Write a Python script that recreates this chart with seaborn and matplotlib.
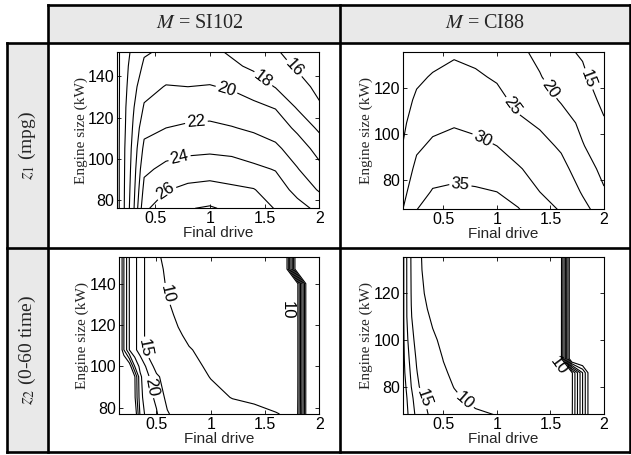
import numpy as np
import matplotlib
matplotlib.use("Agg")
import matplotlib.pyplot as plt
import seaborn as sns
from matplotlib.patches import Rectangle
from matplotlib.lines import Line2D

# ---------------- data ----------------
col_titles = ["SI102", "CI88"]
row_titles = [r"$z_1$ (mpg)", r"$z_2$ (0-60 time)"]

# z1 (mpg), M = SI102
x_tl = [0.15, 0.2, 0.3, 0.4, 0.6, 0.8, 1.0, 1.2, 1.4, 1.6, 1.8, 2.0]
y_tl = [76, 85, 95, 105, 115, 125, 135, 145, 152]
z_tl = [
    [13, 15.2, 19.5, 25.6, 27.2, 27.9, 28.2, 27.6, 27.0, 25.9, 24.7, 23.5],
    [13, 15.2, 19.2, 24.6, 25.9, 26.5, 26.7, 26.4, 26.1, 25.0, 23.4, 21.8],
    [13, 15.2, 18.9, 23.6, 24.5, 24.9, 25.1, 24.8, 24.4, 23.9, 22.1, 20.5],
    [13, 15.2, 18.6, 22.5, 23.2, 23.5, 23.6, 23.5, 23.0, 22.4, 21.0, 19.3],
    [13, 15.1, 18.2, 21.4, 22.0, 22.3, 22.4, 22.1, 21.7, 21.1, 19.6, 17.6],
    [13, 15.1, 17.8, 20.2, 21.0, 21.1, 21.2, 20.9, 20.4, 19.9, 17.8, 16.3],
    [13, 15.0, 17.3, 19.3, 20.1, 20.0, 20.1, 19.8, 19.2, 17.9, 16.9, 15.4],
    [13, 15.0, 16.8, 18.3, 19.0, 19.0, 19.1, 18.4, 17.6, 16.9, 15.7, 14.5],
    [13, 15.0, 16.4, 17.8, 18.3, 18.4, 18.5, 17.7, 17.0, 16.2, 15.2, 14.0],
]
lev_tl = [14, 16, 18, 20, 22, 24, 26, 28]
lab_tl = [(1.77, 144), (1.49, 139), (1.15, 133), (0.88, 116), (0.73, 99), (0.58, 85)]

# z1 (mpg), M = CI88
x_tr = [0.12, 0.25, 0.4, 0.6, 0.8, 1.0, 1.2, 1.4, 1.6, 1.8, 2.0]
y_tr = [67, 75, 85, 95, 105, 115, 125, 136]
z_tr = [
    [30.0, 35.0, 37.0, 38.0, 37.5, 37.0, 35.3, 32.5, 29.6, 26.3, 23.0],
    [28.5, 33.2, 35.3, 35.8, 35.5, 35.0, 33.3, 30.0, 28.2, 24.6, 20.5],
    [26.8, 31.2, 33.3, 33.6, 33.3, 32.3, 30.4, 28.3, 26.3, 22.8, 18.5],
    [25.1, 29.2, 30.8, 31.5, 31.0, 30.0, 28.0, 26.4, 24.4, 20.3, 17.0],
    [24.0, 27.6, 28.8, 29.6, 28.9, 28.2, 25.8, 24.4, 22.5, 18.8, 15.5],
    [23.0, 25.8, 27.1, 28.0, 27.2, 26.3, 23.8, 22.7, 19.5, 17.5, 13.8],
    [22.2, 24.1, 25.4, 26.3, 25.6, 24.5, 22.2, 20.3, 17.5, 15.8, 12.5],
    [21.5, 22.8, 23.2, 24.4, 23.8, 22.8, 21.0, 18.8, 15.9, 14.5, 11.0],
]
lev_tr = [10, 15, 20, 25, 30, 35]
lab_tr = [(1.85, 124), (1.47, 119), (1.14, 112), (0.86, 97.5), (0.66, 78.7)]

# z2 (0-60 time), M = SI102
x_bl = [0.15, 0.2, 0.25, 0.3, 0.35, 0.4, 0.5, 0.6, 0.7, 0.8, 1.0, 1.2, 1.4, 1.6, 1.7, 1.8, 1.9, 2.0]
y_bl = [77, 85, 95, 100, 108, 115, 125, 135, 140, 147, 153]
z_bl = [
    [50, 50, 50, 45, 29, 24, 20.5, 15.5, 13.0, 11.8, 11.0, 10.6, 10.3, 10.05, 9.9, 9.7, 50, 50],
    [50, 50, 50, 41, 27, 22.5, 19.0, 13.5, 12.2, 11.3, 10.4, 9.95, 9.8, 9.6, 9.4, 9.2, 50, 50],
    [50, 50, 50, 40.5, 26, 22, 16.0, 12.5, 11.3, 10.6, 9.95, 9.5, 9.2, 9.05, 9.0, 9.0, 50, 50],
    [50, 50, 44, 30, 23.5, 20, 12.9, 11.3, 10.8, 10.35, 9.8, 9.3, 9.1, 9.0, 9.0, 9.0, 50, 50],
    [50, 35, 25, 21, 18, 14.5, 12.3, 11.2, 10.5, 10.1, 9.5, 9.1, 9.0, 8.9, 8.9, 9.0, 50, 50],
    [50, 35, 25, 21, 18, 14.3, 12.0, 10.9, 10.2, 9.7, 9.3, 9.0, 8.9, 8.8, 8.9, 9.0, 50, 50],
    [50, 35, 25, 21, 18, 14.3, 11.6, 10.4, 9.7, 9.4, 9.1, 8.9, 8.8, 8.8, 8.9, 9.0, 50, 50],
    [50, 35, 25, 21, 18, 14.3, 11.0, 9.95, 9.5, 9.2, 9.0, 8.9, 8.8, 8.8, 8.9, 9.0, 50, 50],
    [50, 35, 25, 21, 18, 14.3, 10.8, 9.8, 9.4, 9.2, 9.0, 8.9, 8.8, 8.8, 8.9, 9.0, 50, 50],
    [50, 35, 25, 21, 18, 14.3, 10.5, 9.7, 9.3, 9.1, 8.9, 8.8, 8.8, 8.8, 9.0, 50, 50, 50],
    [50, 35, 25, 21, 18, 14.3, 10.25, 9.6, 9.3, 9.1, 8.9, 8.8, 8.8, 8.8, 9.0, 50, 50, 50],
]
lev_b = [10, 15, 20, 25, 30, 35, 40]
lab_bl = [(0.6, 135), (0.42, 109), (0.45, 90)]
cliff_bl = (1.8, 127, 0.1)

# z2 (0-60 time), M = CI88
x_br = [0.12, 0.15, 0.2, 0.25, 0.3, 0.35, 0.4, 0.5, 0.6, 0.8, 1.0, 1.2, 1.4, 1.6, 1.7, 1.8, 1.9, 2.0]
y_br = [68, 75, 80, 86, 92, 100, 110, 120, 130, 136]
z_br = [
    [27, 27, 22, 19, 17, 15.3, 13.5, 11.8, 10.9, 10.3, 9.95, 9.8, 9.7, 9.4, 9.2, 30, 50, 50],
    [27, 26, 21, 18, 16, 14, 12.2, 11.0, 10.3, 9.5, 9.3, 9.2, 9.2, 9.1, 9.0, 30, 50, 50],
    [27, 25, 20, 16.5, 13.5, 12.3, 11.6, 10.6, 9.95, 9.5, 9.2, 9.1, 9.1, 9.0, 9.0, 30, 50, 50],
    [27, 24, 19, 15.3, 12.8, 11.8, 11.1, 10.2, 9.7, 9.3, 9.1, 9.0, 9.0, 9.0, 9.0, 30, 50, 50],
    [27, 23, 18, 14.5, 12.3, 11.3, 10.7, 9.95, 9.5, 9.2, 9.0, 8.9, 8.9, 9.0, 50, 50, 50, 50],
    [27, 22, 16.5, 13.5, 11.7, 10.8, 10.3, 9.6, 9.3, 9.1, 9.0, 8.9, 8.9, 9.0, 50, 50, 50, 50],
    [27, 21, 15.2, 12.8, 11.0, 10.2, 9.7, 9.3, 9.0, 8.9, 8.8, 8.8, 8.8, 8.9, 50, 50, 50, 50],
    [27, 21, 14.8, 12.4, 10.3, 9.6, 9.3, 9.0, 8.9, 8.8, 8.7, 8.7, 8.7, 8.8, 50, 50, 50, 50],
    [27, 21, 14.6, 12.1, 10.0, 9.4, 9.1, 8.9, 8.8, 8.7, 8.6, 8.6, 8.6, 8.7, 50, 50, 50, 50],
    [27, 21, 14.5, 12.0, 9.8, 9.3, 9.0, 8.8, 8.7, 8.6, 8.5, 8.5, 8.5, 8.6, 50, 50, 50, 50],
]
lab_br = [(0.70, 74), (0.345, 75.7)]
cliff_br = (1.65, 89, 0.07)

# ---------------- style ----------------
sns.set_style("ticks")
plt.rcParams["font.family"] = ["Liberation Sans", "DejaVu Sans"]
plt.rcParams["mathtext.fontset"] = "stix"
serif = ["Liberation Serif", "DejaVu Serif"]

W, H = 631, 455
fig = plt.figure(figsize=(W / 100, H / 100), dpi=100)


def fx(x):
    return x / W


def fy(y):
    return 1 - y / H


# table: grey header cells and grey row-label column
gray = "#e9e9e9"
fig.add_artist(Rectangle((fx(48), fy(42.5)), fx(631) - fx(48), fy(5) - fy(42.5),
                         transform=fig.transFigure, facecolor=gray, edgecolor="none", zorder=0))
fig.add_artist(Rectangle((fx(7), fy(452)), fx(48) - fx(7), fy(42.5) - fy(452),
                         transform=fig.transFigure, facecolor=gray, edgecolor="none", zorder=0))


def hline(y, x0, x1):
    fig.add_artist(Line2D([fx(x0), fx(x1)], [fy(y), fy(y)], transform=fig.transFigure,
                          color="k", lw=1.9, solid_capstyle="projecting"))


def vline(x, y0, y1):
    fig.add_artist(Line2D([fx(x), fx(x)], [fy(y0), fy(y1)], transform=fig.transFigure,
                          color="k", lw=1.9, solid_capstyle="projecting"))


hline(5, 48, 631)
hline(42.5, 7, 631)
hline(248, 7, 631)
hline(452, 7, 631)
vline(7, 42.5, 452)
vline(48, 5, 452)
vline(340, 5, 452)
vline(630, 5, 452)

fig.text(fx(200), fy(24), r"$M$ = " + col_titles[0], ha="center", va="center",
         fontsize=14.5, family=serif)
fig.text(fx(485), fy(24), r"$M$ = " + col_titles[1], ha="center", va="center",
         fontsize=14.5, family=serif)
fig.text(fx(27), fy(145), row_titles[0], ha="center", va="center", rotation=90,
         fontsize=14, family=serif)
fig.text(fx(27), fy(350), row_titles[1], ha="center", va="center", rotation=90,
         fontsize=14, family=serif)

panels = [
    (x_tl, y_tl, z_tl, lev_tl, lab_tl, None, (0.155, 2), (76, 152), [80, 100, 120, 140],
     (117.3, 51.7, 319.3, 208.3)),
    (x_tr, y_tr, z_tr, lev_tr, lab_tr, None, (0.12, 2), (67.4, 136), [80, 100, 120],
     (402.7, 51.7, 604, 209.3)),
    (x_bl, y_bl, z_bl, lev_b, lab_bl, cliff_bl, (0.155, 2), (77, 153), [80, 100, 120, 140],
     (119, 256.7, 319.3, 414)),
    (x_br, y_br, z_br, lev_b, lab_br, cliff_br, (0.12, 2), (68.3, 135.7), [80, 100, 120],
     (402.7, 256.7, 604, 414)),
]

for xg, yg, zg, levels, labpos, cliff, xlim, ylim, yticks, box in panels:
    l, t, r, b = box
    ax = fig.add_axes([fx(l), fy(b), fx(r) - fx(l), fy(t) - fy(b)])
    X, Y = np.meshgrid(xg, yg)
    cs = ax.contour(X, Y, np.array(zg, dtype=float), levels=levels, colors="k",
                    linewidths=0.8)
    ax.clabel(cs, fmt="%d", fontsize=12, inline=True, inline_spacing=2, manual=labpos)
    if cliff is not None:
        # label of the steep wall, set just beside the packed lines
        cx, cy, shift = cliff
        txt = ax.clabel(cs, levels=[10], fmt="%d", fontsize=12, inline=False, manual=[(cx, cy)])
        t10 = txt[-1]
        px_, py_ = t10.get_position()
        t10.set_position((px_ - shift, py_))
    ax.set_xlim(xlim)
    ax.set_ylim(ylim)
    ax.set_xticks([0.5, 1, 1.5, 2])
    ax.set_xticklabels(["0.5", "1", "1.5", "2"])
    ax.set_yticks(yticks)
    ax.tick_params(direction="in", top=True, right=True, length=3, width=0.6,
                   labelsize=11.5, pad=2, colors="k")
    for s in ax.spines.values():
        s.set_color("k")
        s.set_linewidth(0.8)
    ax.set_xlabel("Final drive", fontsize=11, labelpad=0)
    ax.set_ylabel("Engine size (kW)", fontsize=11, family=serif, labelpad=0)

fig.savefig("out.png", dpi=100)
